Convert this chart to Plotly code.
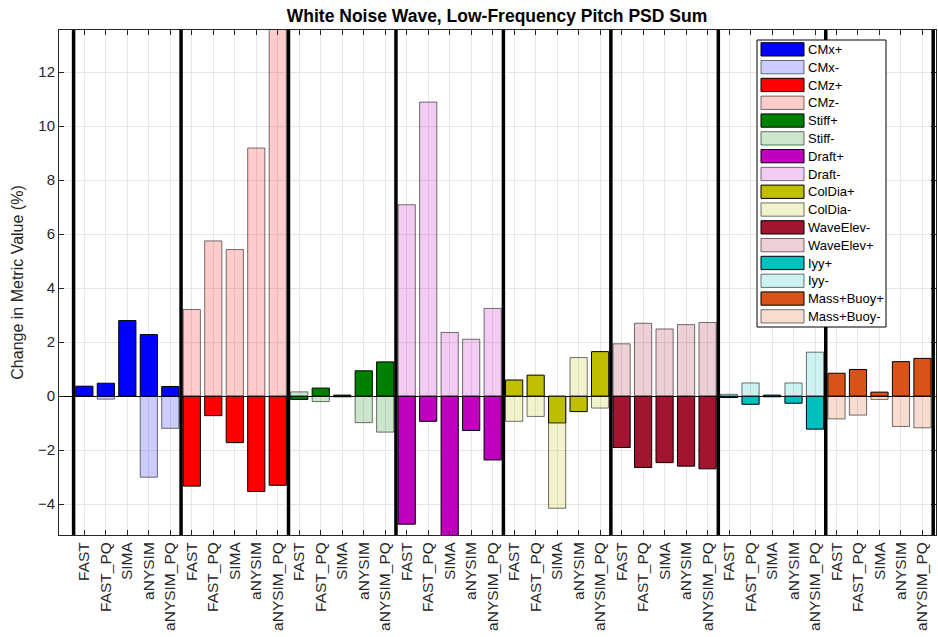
import plotly.graph_objects as go

tools = ["FAST", "FAST_PQ", "SIMA", "aNYSIM", "aNYSIM_PQ"]
groups = ["CMx", "CMz", "Stiff", "Draft", "ColDia", "WaveElev", "Iyy", "Mass+Buoy"]

# dark series names / values (drawn first)
dark_names = ["CMx+", "CMz+", "Stiff+", "Draft+", "ColDia+", "WaveElev-", "Iyy+", "Mass+Buoy+"]
# light series names (drawn on top, semi-transparent)
light_names = ["CMx-", "CMz-", "Stiff-", "Draft-", "ColDia-", "WaveElev+", "Iyy-", "Mass+Buoy-"]

base_colors = [(0, 0, 255), (255, 0, 0), (0, 128, 0), (191, 0, 191),
               (191, 191, 0), (162, 20, 47), (0, 191, 191), (217, 83, 25)]

cmx_p = [0.37, 0.48, 2.80, 2.28, 0.36]
cmx_m = [0.0, -0.11, 0.0, -3.00, -1.19]
cmz_p = [-3.33, -0.72, -1.72, -3.53, -3.30]
cmz_m = [3.21, 5.75, 5.43, 9.19, 14.5]
stiff_p = [-0.12, 0.30, 0.04, 0.94, 1.27]
stiff_m = [0.16, -0.20, -0.03, -0.98, -1.33]
draft_p = [-4.74, -0.93, -5.6, -1.27, -2.36]
draft_m = [7.09, 10.89, 2.36, 2.11, 3.25]
coldia_p = [0.60, 0.78, -0.99, -0.57, 1.65]
coldia_m = [-0.93, -0.75, -4.15, 1.43, -0.44]
wave_m = [-1.90, -2.64, -2.46, -2.59, -2.69]
wave_p = [1.94, 2.70, 2.49, 2.65, 2.73]
iyy_p = [-0.05, -0.30, 0.04, -0.26, -1.22]
iyy_m = [0.07, 0.49, -0.03, 0.49, 1.63]
mass_p = [0.85, 0.99, 0.15, 1.28, 1.40]
mass_m = [-0.84, -0.70, -0.12, -1.12, -1.17]

dark_vals = [cmx_p, cmz_p, stiff_p, draft_p, coldia_p, wave_m, iyy_p, mass_p]
light_vals = [cmx_m, cmz_m, stiff_m, draft_m, coldia_m, wave_p, iyy_m, mass_m]

FONT = "Arial, 'Liberation Sans', Helvetica, sans-serif"
W, H = 938, 637
ML, MR, MT, MB = 59, 2, 30, 102
PW, PH = W - ML - MR, H - MT - MB


def px2paper_x(px):
    return (px - ML) / PW


def px2paper_y(py):
    return (H - MB - py) / PH


fig = go.Figure()
n = len(tools)
legend_entries = []
for g in range(len(groups)):
    xs = [g * n + t + 1 for t in range(n)]
    r, gg, b = base_colors[g]
    dcol = f"rgb({r},{gg},{b})"
    lcol = f"rgba({r},{gg},{b},0.2)"
    fig.add_trace(go.Bar(
        x=xs, y=dark_vals[g], name=dark_names[g], width=0.8, showlegend=False,
        marker=dict(color=dcol, line=dict(color="black", width=1)),
    ))
    fig.add_trace(go.Bar(
        x=xs, y=light_vals[g], name=light_names[g], width=0.8, showlegend=False,
        marker=dict(color=lcol, line=dict(color="rgba(0,0,0,0.55)", width=1)),
    ))
    legend_entries.append((dark_names[g], dcol, "black"))
    legend_entries.append((light_names[g], lcol, "rgba(0,0,0,0.55)"))

tickvals = [g * n + t + 1 for g in range(len(groups)) for t in range(n)]
ticktext = [tools[t] for g in range(len(groups)) for t in range(n)]

shapes = []
for k in range(len(groups) + 1):
    xb = k * n + 0.5
    shapes.append(dict(type="line", xref="x", yref="paper", x0=xb, x1=xb, y0=0, y1=1,
                       line=dict(color="black", width=3.5), layer="above"))

# custom legend box (MATLAB style, wide swatches)
annotations = []
box_l, box_r, box_t, box_b = 757, 886, 40, 327
shapes.append(dict(type="rect", xref="paper", yref="paper",
                   x0=px2paper_x(box_l), x1=px2paper_x(box_r),
                   y0=px2paper_y(box_b), y1=px2paper_y(box_t),
                   fillcolor="white", line=dict(color="black", width=1), layer="above"))
pitch = 17.8
for i, (name, fcol, lcol) in enumerate(legend_entries):
    top = 42.7 + i * pitch
    shapes.append(dict(type="rect", xref="paper", yref="paper",
                       x0=px2paper_x(761), x1=px2paper_x(804),
                       y0=px2paper_y(top + 13.3), y1=px2paper_y(top),
                       fillcolor=fcol, line=dict(color=lcol, width=1), layer="above"))
    annotations.append(dict(xref="paper", yref="paper", x=px2paper_x(806),
                            y=px2paper_y(top + 6.8), text=name, showarrow=False,
                            xanchor="left", yanchor="middle",
                            font=dict(size=13, color="black", family=FONT)))

fig.update_layout(
    width=W, height=H,
    margin=dict(l=ML, r=MR, t=MT, b=MB),
    barmode="overlay",
    plot_bgcolor="white", paper_bgcolor="white",
    font=dict(family=FONT, color="#262626"),
    title=dict(text="<b>White Noise Wave, Low-Frequency Pitch PSD Sum</b>",
               x=497 / W, xanchor="center", y=1 - 16 / H, yanchor="middle",
               font=dict(size=17.5, color="black", family=FONT)),
    shapes=shapes,
    annotations=annotations,
    showlegend=False,
)
fig.update_xaxes(
    range=[-0.18, 40.63], tickvals=tickvals, ticktext=ticktext, tickangle=-90,
    ticks="inside", ticklen=5, tickcolor="#262626", mirror="ticks",
    showline=True, linecolor="#262626", linewidth=1,
    showgrid=True, gridcolor="#e6e6e6", gridwidth=1,
    tickfont=dict(size=15.5, color="#262626"), zeroline=False,
)
fig.update_yaxes(
    range=[-5.14, 13.56], tickvals=[-4, -2, 0, 2, 4, 6, 8, 10, 12],
    ticks="inside", ticklen=5, tickcolor="#262626", mirror="ticks",
    showline=True, linecolor="#262626", linewidth=1,
    showgrid=True, gridcolor="#e6e6e6", gridwidth=1,
    zeroline=True, zerolinecolor="black", zerolinewidth=1,
    tickfont=dict(size=15, color="#262626"),
    title=dict(text="Change in Metric Value (%)", font=dict(size=16, color="#262626"), standoff=10),
)

fig.write_html("out.html")
